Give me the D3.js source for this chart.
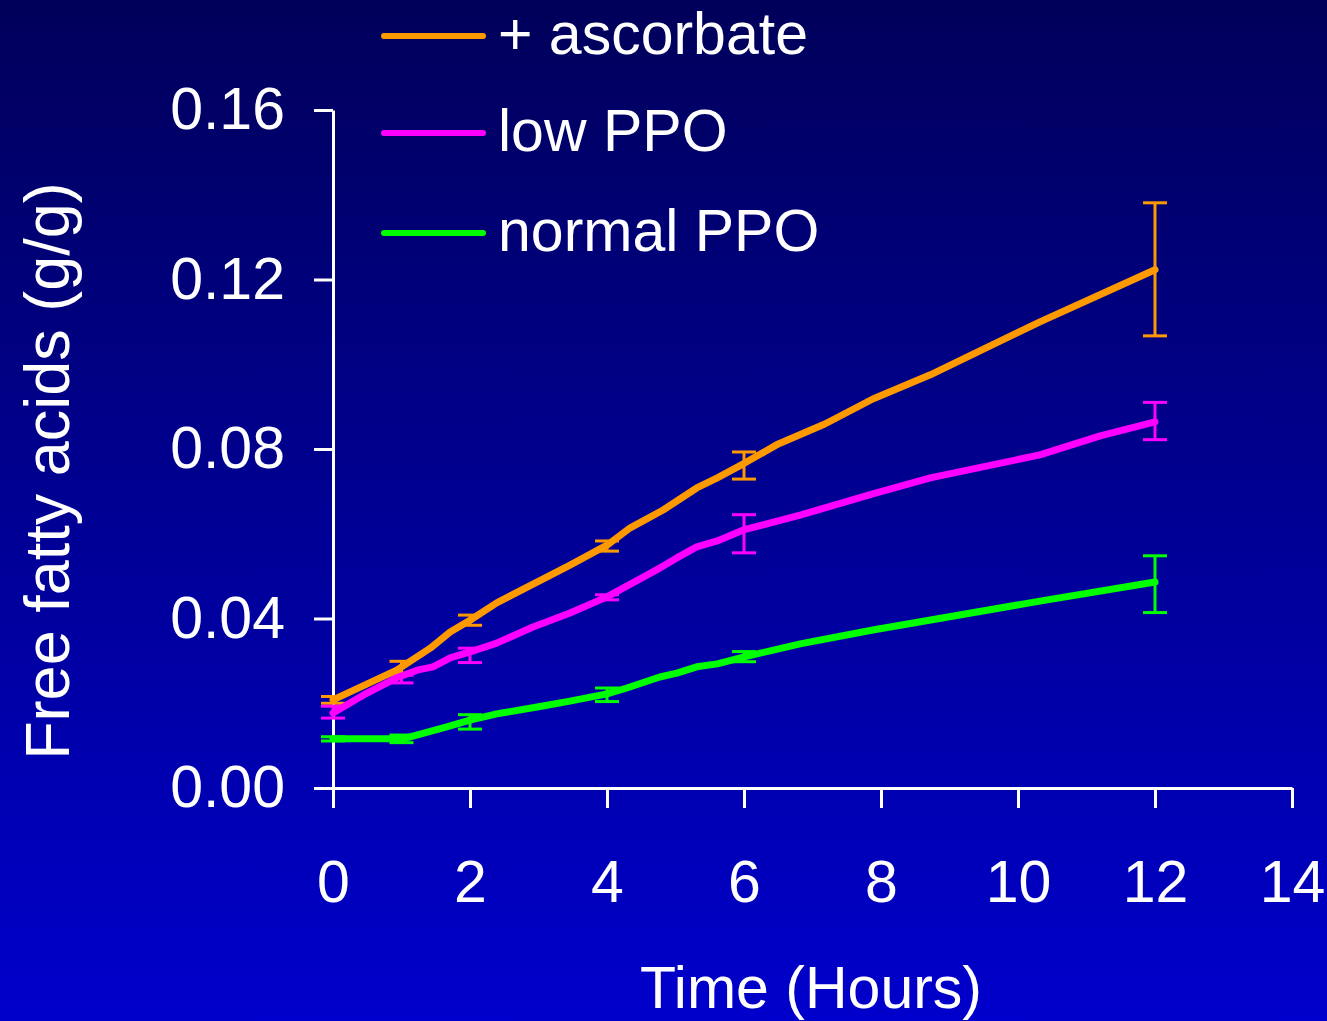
<!DOCTYPE html>
<html>
<head>
<meta charset="utf-8">
<script src="https://cdn.jsdelivr.net/npm/d3@7"></script>
<style>
  body { margin: 0; background: #000080; }
  svg { display: block; }
  text { font-family: "Liberation Sans", Arial, sans-serif; fill: #fff; }
</style>
</head>
<body>
<div id="plot-container"></div>
<script>
// series names and colours
var seriesNames = ["+ ascorbate", "low PPO", "normal PPO"];
var colors = ["#ff9900", "#ff00ff", "#00ff00"];

// line vertices (hours, g/g)
var ascHours = [0, 0.93, 1.42, 1.71, 2.0, 2.39, 3.46, 4.0, 4.34, 4.82, 5.31, 5.61, 5.99, 6.5, 7.18, 7.88, 8.72, 10.32, 12];
var ascValues = [0.0208, 0.0278, 0.0330, 0.0368, 0.0396, 0.0437, 0.0526, 0.0573, 0.0614, 0.0656, 0.0708, 0.0732, 0.0765, 0.0812, 0.0859, 0.0918, 0.0975, 0.1100, 0.1223];

var lowHours = [0, 0.44, 0.93, 1.23, 1.46, 1.71, 2.0, 2.39, 2.92, 3.46, 4.0, 4.77, 5.02, 5.31, 5.61, 5.99, 6.82, 7.88, 8.72, 10.32, 11.2, 12];
var lowValues = [0.0177, 0.0219, 0.0260, 0.0278, 0.0286, 0.0307, 0.0321, 0.0342, 0.0380, 0.0413, 0.0451, 0.0519, 0.0543, 0.0569, 0.0583, 0.0609, 0.0644, 0.0694, 0.0732, 0.0786, 0.0831, 0.0864];

var normHours = [0, 1.02, 1.66, 2.0, 2.39, 2.98, 3.46, 4.0, 4.29, 4.77, 5.02, 5.31, 5.61, 5.99, 6.82, 7.88, 10.32, 12];
var normValues = [0.0116, 0.0116, 0.0144, 0.0160, 0.0175, 0.0191, 0.0205, 0.0222, 0.0236, 0.0262, 0.0271, 0.0286, 0.0293, 0.0309, 0.0340, 0.0373, 0.0441, 0.0486];

// sampled times with error bars
var sampleHours = [0, 1, 2, 4, 6, 12];
var ascMean = [0.0208, 0.0285, 0.0396, 0.0571, 0.0761, 0.1224];
var ascErr  = [0.0008, 0.0014, 0.0012, 0.0012, 0.0032, 0.0157];
var lowMean = [0.0179, 0.0257, 0.0313, 0.0450, 0.0600, 0.0866];
var lowErr  = [0.0014, 0.0009, 0.0017, 0.0006, 0.0045, 0.0044];
var normMean = [0.0116, 0.0116, 0.0156, 0.0220, 0.0310, 0.0481];
var normErr  = [0.0005, 0.0009, 0.0017, 0.0016, 0.0012, 0.0067];

// axis ticks
var xTicks = [0, 2, 4, 6, 8, 10, 12, 14];
var yTicks = [0, 0.04, 0.08, 0.12, 0.16];

var width = 1327, height = 1021;

var svg = d3.select("#plot-container")
            .append("svg")
            .attr("width", width)
            .attr("height", height);

// background gradient
var grad = svg.append("defs").append("linearGradient")
              .attr("id", "bg")
              .attr("x1", 0).attr("y1", 0).attr("x2", 0).attr("y2", 1);
grad.append("stop").attr("offset", "0%").attr("stop-color", "#00005a");
grad.append("stop").attr("offset", "100%").attr("stop-color", "#0000cc");
svg.append("rect").attr("width", width).attr("height", height).attr("fill", "url(#bg)");

var xScale = d3.scaleLinear().domain([0, 14]).range([333, 1292]);
var yScale = d3.scaleLinear().domain([0, 0.16]).range([788, 110]);

// axes
var xAxis = svg.append("g")
  .attr("transform", "translate(0,788)")
  .call(d3.axisBottom(xScale).tickValues(xTicks).tickSize(20).tickSizeOuter(0).tickPadding(52));

var yAxis = svg.append("g")
  .attr("transform", "translate(333,0)")
  .call(d3.axisLeft(yScale).tickValues(yTicks).tickFormat(d3.format(".2f")).tickSize(19).tickSizeOuter(0).tickPadding(29));

[xAxis, yAxis].forEach(function(ax){
  ax.selectAll("path, line").attr("stroke", "#fff").attr("stroke-width", 3);
  ax.selectAll("text").attr("fill", "#fff").style("font-size", "59px")
    .style("font-family", "'Liberation Sans', Arial, sans-serif");
});

// axis titles
svg.append("text")
   .attr("x", 811).attr("y", 1008)
   .attr("text-anchor", "middle")
   .style("font-size", "59px")
   .text("Time (Hours)");

svg.append("text")
   .attr("transform", "translate(69,471) rotate(-90)")
   .attr("text-anchor", "middle")
   .style("font-size", "63px")
   .text("Free fatty acids (g/g)");

// lines
var lineData = [
  d3.zip(ascHours, ascValues),
  d3.zip(lowHours, lowValues),
  d3.zip(normHours, normValues)
];

var line = d3.line()
             .x(function(d){ return xScale(d[0]); })
             .y(function(d){ return yScale(d[1]); });

// error bars
var errData = [
  d3.zip(sampleHours, ascMean, ascErr),
  d3.zip(sampleHours, lowMean, lowErr),
  d3.zip(sampleHours, normMean, normErr)
];

var capW = 12;
errData.forEach(function(pts, i){
  var g = svg.append("g").attr("stroke", colors[i]).attr("stroke-width", 3);
  pts.forEach(function(p){
    var x = xScale(p[0]), y1 = yScale(p[1] + p[2]), y2 = yScale(p[1] - p[2]);
    g.append("line").attr("x1", x).attr("x2", x).attr("y1", y1).attr("y2", y2);
    g.append("line").attr("x1", x - capW).attr("x2", x + capW).attr("y1", y1).attr("y2", y1);
    g.append("line").attr("x1", x - capW).attr("x2", x + capW).attr("y1", y2).attr("y2", y2);
  });
});

svg.selectAll("path.series")
   .data(lineData)
   .enter()
   .append("path")
   .attr("class", "series")
   .attr("d", line)
   .attr("fill", "none")
   .attr("stroke", function(d, i){ return colors[i]; })
   .attr("stroke-width", 7)
   .attr("stroke-linejoin", "round")
   .attr("stroke-linecap", "round");

// legend
var legendY = [36, 133, 233];
var legend = svg.selectAll("g.legend")
   .data(seriesNames)
   .enter()
   .append("g")
   .attr("class", "legend")
   .attr("transform", function(d, i){ return "translate(0," + legendY[i] + ")"; });

legend.append("line")
   .attr("x1", 384).attr("x2", 483).attr("y1", 0).attr("y2", 0)
   .attr("stroke", function(d, i){ return colors[i]; })
   .attr("stroke-width", 6)
   .attr("stroke-linecap", "round");

legend.append("text")
   .attr("x", 498).attr("y", 18)
   .style("font-size", "59px")
   .text(function(d){ return d; });
</script>
</body>
</html>
